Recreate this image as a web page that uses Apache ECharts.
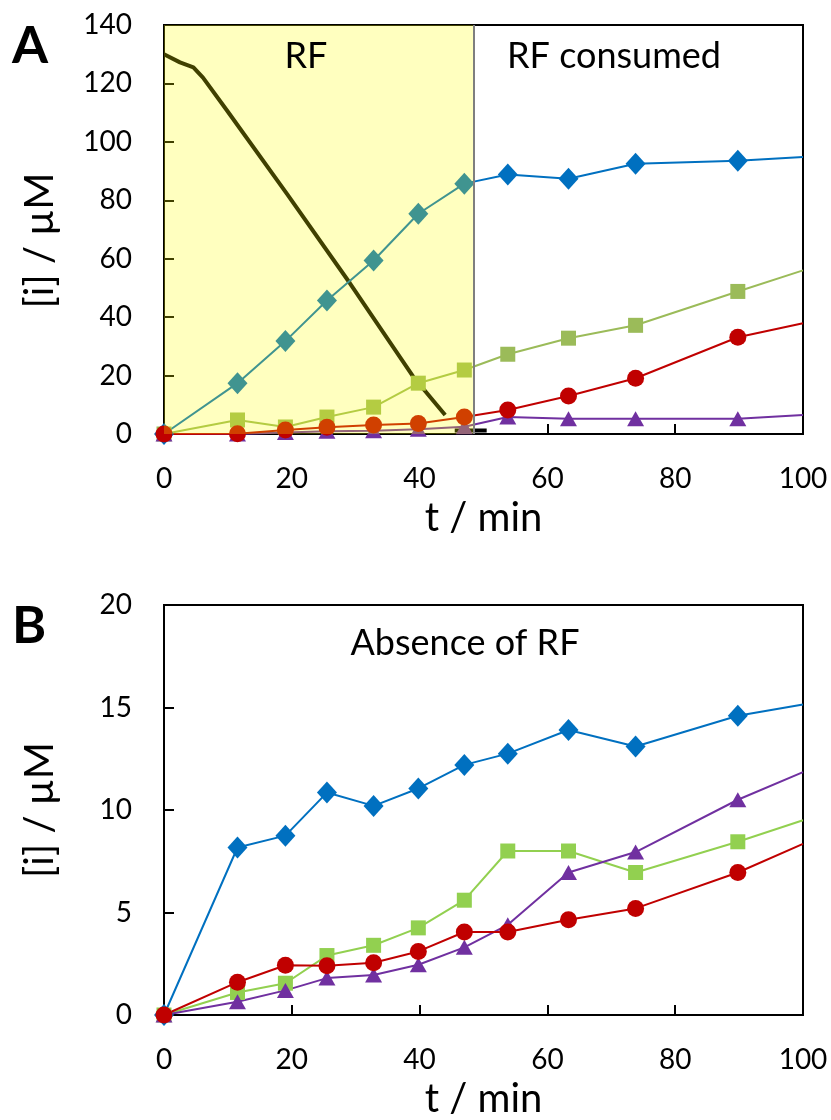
<!DOCTYPE html>
<html>
<head>
<meta charset="utf-8">
<script src="https://cdn.jsdelivr.net/npm/echarts@6/dist/echarts.min.js"></script>
<style>html,body{margin:0;padding:0;background:#fff}#c{width:831px;height:1120px}</style>
</head>
<body>
<div id="c"></div>
<script>
// ---- data ----
const times = [0, 11.5, 19, 25.5, 32.8, 39.8, 47, 53.8, 63.3, 73.8, 89.8, 100];
// Panel A
const aBlue   = [0, 17.4, 31.8, 45.7, 59.4, 75.4, 85.7, 88.8, 87.4, 92.5, 93.5, 94.8];
const aGreen  = [0, 4.8, 2.4, 5.8, 9.2, 17.4, 21.9, 27.3, 32.8, 37.2, 48.8, 56];
const aRed    = [0, 0.1, 1.4, 2.3, 3.1, 3.6, 5.8, 8.2, 13.0, 19.1, 33.1, 37.9];
const aPurple = [0, 0, 0.5, 0.9, 1.1, 1.6, 2.5, 5.8, 5.2, 5.2, 5.2, 6.5];
const rfTime  = [0, 2.5, 4.6, 6.1, 10, 19.3, 29.1, 39, 44];
const rfValue = [130, 127.2, 125.5, 122, 110.3, 82, 51.6, 19.6, 6.5];
const rfTailTime  = [45.5, 50.5];
const rfTailValue = [1.2, 1.2];
const rfEnd = 48.5;
// Panel B
const bBlue   = [0, 8.17, 8.75, 10.85, 10.2, 11.05, 12.2, 12.75, 13.9, 13.1, 14.6, 15.15];
const bGreen  = [0, 1.1, 1.55, 2.9, 3.4, 4.25, 5.6, 8.0, 8.0, 6.95, 8.45, 9.5];
const bRed    = [0, 1.6, 2.43, 2.4, 2.55, 3.1, 4.05, 4.05, 4.65, 5.2, 6.95, 8.35];
const bPurple = [0, 0.65, 1.2, 1.8, 1.95, 2.45, 3.3, 4.4, 6.95, 7.95, 10.5, 11.85];
const aYTicks = [0, 140, 20];
const bYTicks = [0, 20, 5];
const xTicks  = [0, 100, 20];

const FONT = 'Lato';
function pts(ys) {
  return times.map((t, i) => i === times.length - 1
    ? { value: [t, ys[i]], symbol: 'none' }
    : [t, ys[i]]);
}
function dataSeries(idx, ys, color, symbol, size) {
  return {
    type: 'line', xAxisIndex: idx, yAxisIndex: idx, data: pts(ys),
    symbol: symbol, symbolSize: size, showSymbol: true, clip: false,
    lineStyle: { color: color, width: 2 }, itemStyle: { color: color },
    z: 3, animation: false
  };
}
function xAxis(idx) {
  return {
    type: 'value', gridIndex: idx, min: xTicks[0], max: xTicks[1], interval: xTicks[2],
    name: 't / min', nameLocation: 'middle', nameGap: 64,
    nameTextStyle: { fontFamily: FONT, fontSize: 40, color: '#000' },
    axisLine: { show: true, lineStyle: { color: '#000', width: 2 } },
    axisTick: { show: true, inside: true, length: 10, lineStyle: { color: '#000', width: 2 } },
    axisLabel: { fontFamily: FONT, fontSize: 28, color: '#000', margin: 31 },
    splitLine: { show: false }
  };
}
function yAxis(idx, t, pad) {
  return {
    type: 'value', gridIndex: idx, min: t[0], max: t[1], interval: t[2],
    name: '[i] / µM', nameLocation: 'middle', nameGap: 104,
    nameTextStyle: { fontFamily: FONT, fontSize: 40, color: '#000', padding: pad },
    axisLine: { show: true, lineStyle: { color: '#000', width: 2 } },
    axisTick: { show: true, inside: true, length: 10, lineStyle: { color: '#000', width: 2 } },
    axisLabel: { fontFamily: FONT, fontSize: 28, color: '#000', margin: 32 },
    splitLine: { show: false }
  };
}

const chart = echarts.init(document.getElementById('c'), null, { renderer: 'canvas' });
chart.setOption({
  animation: false,
  backgroundColor: '#fff',
  grid: [
    { left: 164, top: 25, width: 639, height: 409, show: true, borderColor: '#000', borderWidth: 2, backgroundColor: 'transparent' },
    { left: 164, top: 605, width: 639, height: 410, show: true, borderColor: '#000', borderWidth: 2, backgroundColor: 'transparent' }
  ],
  xAxis: [xAxis(0), xAxis(1)],
  yAxis: [yAxis(0, aYTicks, [0, 22, 0, 0]), yAxis(1, bYTicks, [0, 0, 0, 0])],
  graphic: [
    { type: 'text', z: 100, left: 12, top: 20, style: { text: 'A', fontFamily: FONT, fontWeight: 'bold', fontSize: 52, fill: '#000' } },
    { type: 'text', z: 100, left: 12, top: 600, style: { text: 'B', fontFamily: FONT, fontWeight: 'bold', fontSize: 52, fill: '#000' } },
    { type: 'text', z: 100, x: 306, y: 56, style: { text: 'RF', fontFamily: FONT, fontSize: 36, fill: '#000', align: 'center', verticalAlign: 'middle' } },
    { type: 'text', z: 100, x: 614, y: 56, style: { text: 'RF consumed', fontFamily: FONT, fontSize: 36, fill: '#000', align: 'center', verticalAlign: 'middle' } },
    { type: 'text', z: 100, x: 465, y: 643, style: { text: 'Absence of RF', fontFamily: FONT, fontSize: 36, fill: '#000', align: 'center', verticalAlign: 'middle' } }
  ],
  series: [
    {
      type: 'line', xAxisIndex: 0, yAxisIndex: 0,
      data: rfTime.map((t, i) => [t, rfValue[i]]),
      symbol: 'none', lineStyle: { color: '#000', width: 4 }, z: 2, animation: false
    },
    {
      type: 'line', xAxisIndex: 0, yAxisIndex: 0,
      data: rfTailTime.map((t, i) => [t, rfTailValue[i]]),
      symbol: 'none', lineStyle: { color: '#000', width: 4 }, z: 2, animation: false
    },
    dataSeries(0, aBlue, '#0070C0', 'diamond', [20, 22]),
    dataSeries(0, aGreen, '#9BBB59', 'rect', 15),
    dataSeries(0, aPurple, '#7030A0', 'triangle', [17, 15]),
    dataSeries(0, aRed, '#C00000', 'circle', 17),
    {
      type: 'line', xAxisIndex: 0, yAxisIndex: 0, data: [[0, 0]],
      symbol: 'none', lineStyle: { opacity: 0 }, z: 10, animation: false,
      markArea: {
        silent: true, z: 10,
        itemStyle: { color: 'rgba(255,255,0,0.25)' },
        data: [[{ coord: [0, aYTicks[1]] }, { coord: [rfEnd, 0] }]]
      },
      markLine: {
        silent: true, z: 11, symbol: 'none', label: { show: false },
        lineStyle: { color: '#7f7f7f', width: 2, type: 'solid' },
        data: [{ xAxis: rfEnd }]
      }
    },
    dataSeries(1, bBlue, '#0070C0', 'diamond', [20, 22]),
    dataSeries(1, bGreen, '#92D050', 'rect', 15),
    dataSeries(1, bPurple, '#7030A0', 'triangle', [17, 15]),
    dataSeries(1, bRed, '#C00000', 'circle', 17)
  ]
});
</script>
</body>
</html>
